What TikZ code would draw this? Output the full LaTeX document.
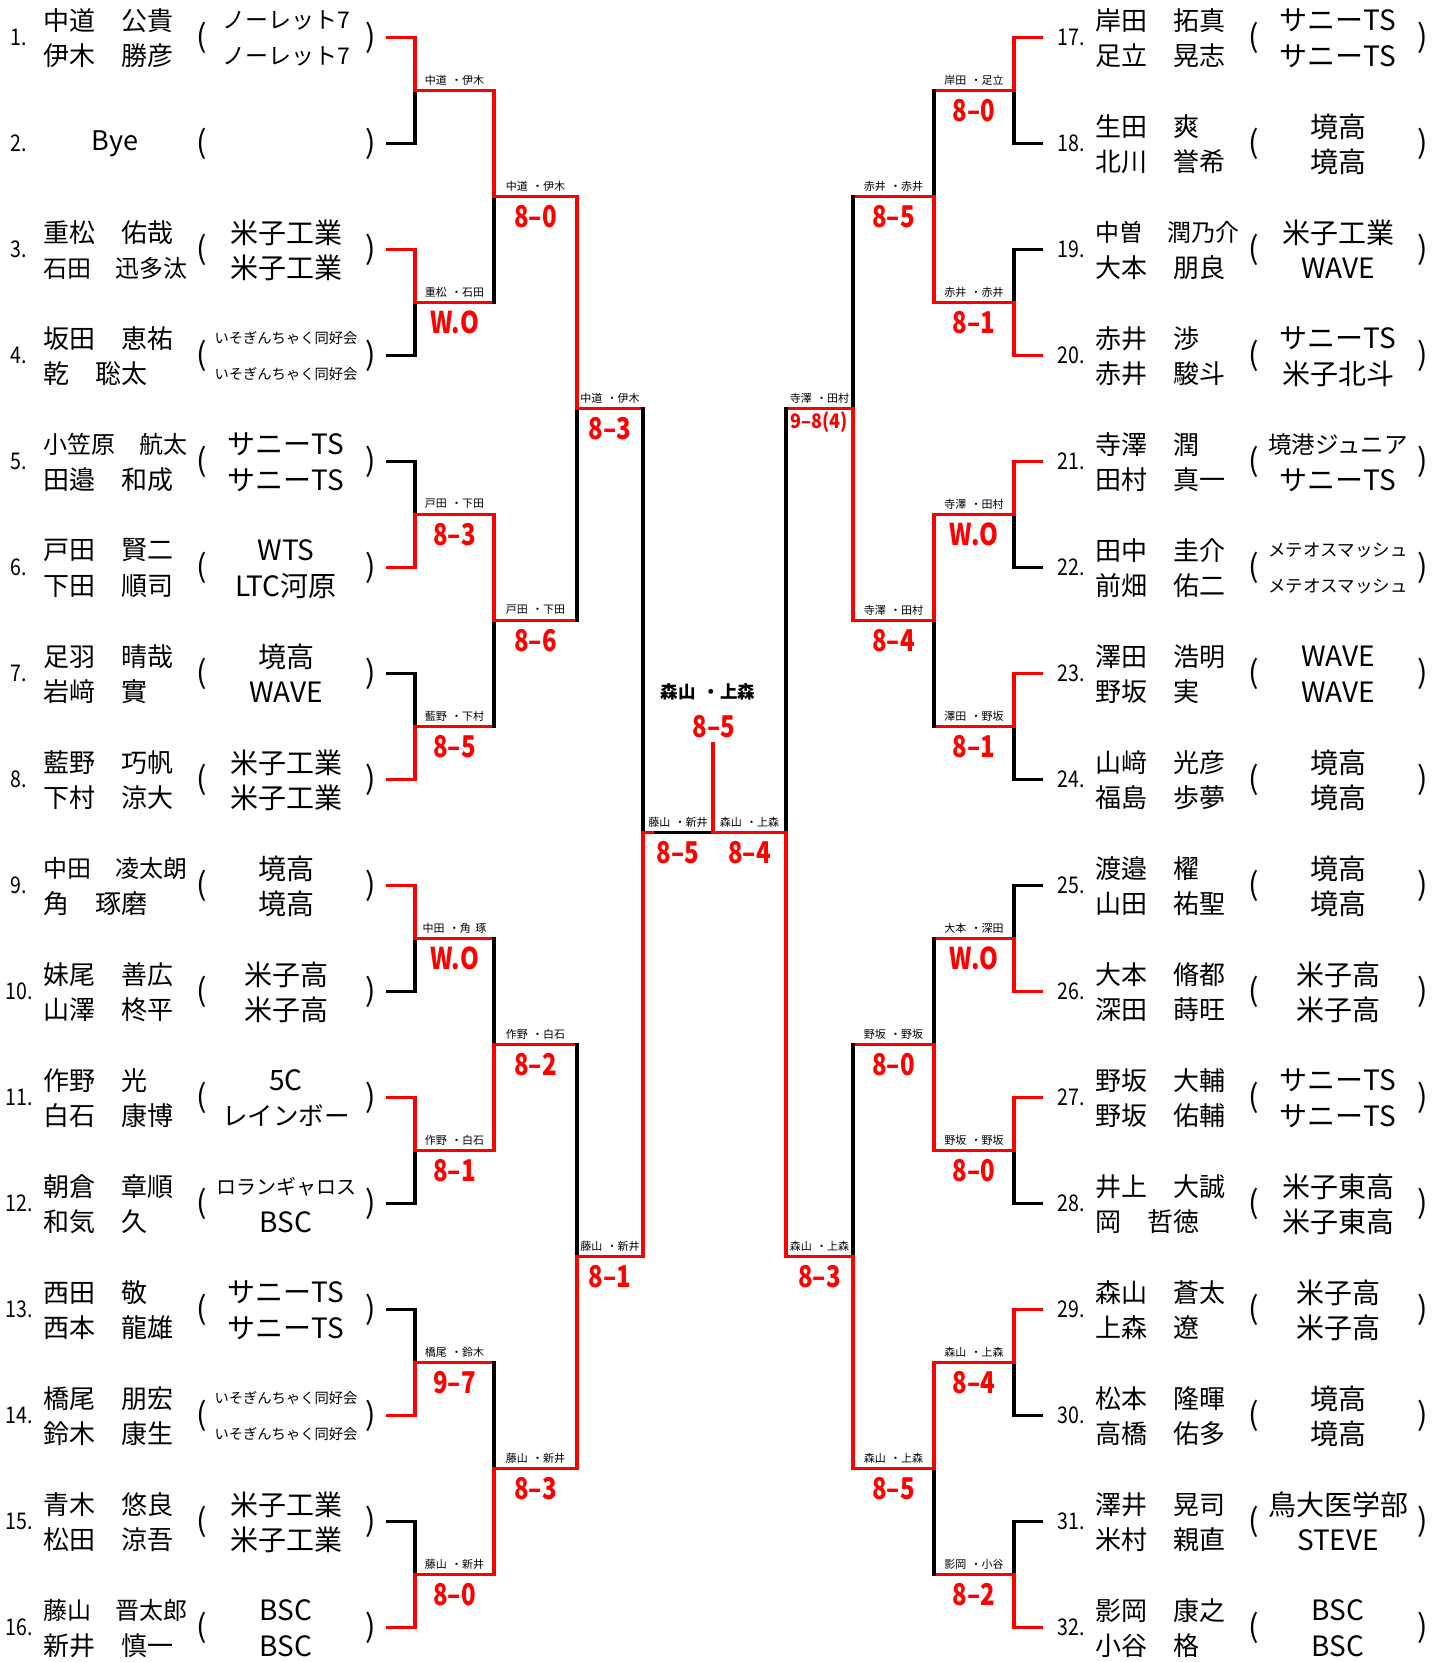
\documentclass[tikz,border=0pt]{standalone}
\usepackage{fontspec}
\setmainfont{Noto Sans CJK JP}
\newcommand\bkFs[1]{\fontsize{#1pt}{#1pt}\selectfont}
\newcommand\bkLab[2]{#1\hspace{.4em}・#2}
\newcommand\bkSc[1]{\scalebox{0.8}[1]{#1}}
\tikzset{
  ln/.style={line width=3.5pt, line cap=rect, line join=miter},
  win/.style={ln, draw=red},
  lose/.style={ln, draw=black},
  nm/.style={anchor=west, inner sep=0pt, font=\bkFs{26}},
  club/.style={anchor=center, inner sep=0pt, font=\bkFs{28}},
  par/.style={anchor=center, inner sep=0pt, font=\bkFs{31}},
  num/.style={anchor=center, inner sep=0pt, font=\bkFs{23}},
  lab/.style={inner sep=0pt, font=\bkFs{11}, yshift=10.5pt},
  scoretxt/.style={inner sep=0pt, text=red, font=\bfseries\bkFs{30}},
  score/.style={scoretxt, yshift=-20pt},
}
% one entry: number, two names, two clubs in brackets
\newcommand\bkEnt[7]{%
  \node[num] (num#1) at (19+#2,#3) {\scalebox{0.85}[1]{#1.}};
  \node[nm] (na#1) at (43+#2,#3-17) {#4};
  \node[nm] (nb#1) at (43+#2,#3+18.5) {#5};
  \node[par] (po#1) at (202+#2,#3) {(};
  \node[club] (ca#1) at (286+#2,#3-17) {#6};
  \node[club] (cb#1) at (286+#2,#3+18.5) {#7};
  \node[par] (pc#1) at (370.5+#2,#3) {)};
}
% first round bracket: #1 side (L/R), #2 match index, #3 U (upper wins) / D (lower wins)
\newcommand\bkFirst[3]{%
  \pgfmathtruncatemacro\bkA{2*#2-1}\pgfmathtruncatemacro\bkB{2*#2}%
  \if#3U
    \draw[lose] (#1S\bkB) -- (#1A\bkB) -- (#1B#2);
    \draw[win] (#1S\bkA) -- (#1A\bkA) -- (#1B#2) -- (#1Bo#2);
  \else
    \draw[lose] (#1S\bkA) -- (#1A\bkA) -- (#1B#2);
    \draw[win] (#1S\bkB) -- (#1A\bkB) -- (#1B#2) -- (#1Bo#2);
  \fi}
% later rounds: #1 upper feeder, #2 match, #3 lower feeder, #4 out, #5 U/D
\newcommand\bkNext[5]{%
  \if#5U
    \draw[lose] (#2) -- (#3);
    \draw[win] (#1) -- (#2) -- (#4);
  \else
    \draw[lose] (#1) -- (#2);
    \draw[win] (#3) -- (#2) -- (#4);
  \fi}
% label and score on a result line
\newcommand\bkRes[5]{%
  \path (#1) -- (#2) node[lab,pos=.5] (#3l) {#4} node[score,pos=.5] (#3s) {\bkSc{#5}};}
\begin{document}
\begin{tikzpicture}[x=1pt,y=-1pt]
\useasboundingbox (0,0) rectangle (1442,1662);
% ---------- coordinates ----------
\foreach \i in {1,...,16}{
  \pgfmathsetmacro\yy{37.5+106*(\i-1)}
  \coordinate (LS\i) at (388,\yy);
  \coordinate (LA\i) at (415,\yy);
  \coordinate (RS\i) at (1041,\yy);
  \coordinate (RA\i) at (1014,\yy);
}
\foreach \k in {1,...,8}{
  \pgfmathsetmacro\yy{90.5+212*(\k-1)}
  \coordinate (LB\k) at (415,\yy); \coordinate (LBo\k) at (494,\yy);
  \coordinate (RB\k) at (1014,\yy); \coordinate (RBo\k) at (934,\yy);
}
\foreach \m in {1,...,4}{
  \pgfmathsetmacro\yy{196.5+424*(\m-1)}
  \coordinate (LC\m) at (494,\yy); \coordinate (LCo\m) at (577,\yy);
  \coordinate (RC\m) at (934,\yy); \coordinate (RCo\m) at (853,\yy);
}
\foreach \n in {1,2}{
  \pgfmathsetmacro\yy{408.5+848*(\n-1)}
  \coordinate (LD\n) at (577,\yy); \coordinate (LDo\n) at (643,\yy);
  \coordinate (RD\n) at (853,\yy); \coordinate (RDo\n) at (786,\yy);
}
\coordinate (LE) at (643,832.5);
\coordinate (LEs) at (652,832.5);
\coordinate (RE) at (786,832.5);
\coordinate (F) at (713,832.5);
\coordinate (Ft) at (713,744);
% ---------- brackets ----------
\foreach \k/\w in {1/U,2/U,3/D,4/D,5/U,6/U,7/D,8/D}{\bkFirst{L}{\k}{\w}}
\foreach \k/\w in {1/U,2/D,3/U,4/U,5/D,6/U,7/U,8/D}{\bkFirst{R}{\k}{\w}}
\foreach \m/\w in {1/U,2/U,3/D,4/D}{%
  \pgfmathtruncatemacro\bkA{2*\m-1}\pgfmathtruncatemacro\bkB{2*\m}%
  \bkNext{LBo\bkA}{LC\m}{LBo\bkB}{LCo\m}{\w}}
\foreach \m/\w in {1/D,2/U,3/D,4/U}{%
  \pgfmathtruncatemacro\bkA{2*\m-1}\pgfmathtruncatemacro\bkB{2*\m}%
  \bkNext{RBo\bkA}{RC\m}{RBo\bkB}{RCo\m}{\w}}
\bkNext{LCo1}{LD1}{LCo2}{LDo1}{U}
\bkNext{LCo3}{LD2}{LCo4}{LDo2}{D}
\bkNext{RCo1}{RD1}{RCo2}{RDo1}{D}
\bkNext{RCo3}{RD2}{RCo4}{RDo2}{D}
\draw[lose] (LDo1) -- (LE) -- (F);
\draw[win] (LDo2) -- (LE) -- (LEs);
\draw[lose] (RDo1) -- (RE);
\draw[win] (RDo2) -- (RE) -- (F);
\draw[win] (F) -- (Ft);
% ---------- entries ----------
\bkEnt{1}{0}{37.5}{中道　公貴}{伊木　勝彦}{\bkFs{23}ノーレット7}{\bkFs{23}ノーレット7}
\node[num] (num2) at (19,143.5) {\scalebox{0.85}[1]{2.}};
\node[club,font=\bkFs{27}] (bye) at (115,143.5) {Bye};
\node[par] (po2) at (202,143.5) {(};
\node[par] (pc2) at (370.5,143.5) {)};
\bkEnt{3}{0}{249.5}{重松　佑哉}{\bkFs{24}石田　迅多汰}{米子工業}{米子工業}
\bkEnt{4}{0}{355.5}{坂田　恵祐}{乾　聡太}{\bkFs{14.3}いそぎんちゃく同好会}{\bkFs{14.3}いそぎんちゃく同好会}
\bkEnt{5}{0}{461.5}{\bkFs{24}小笠原　航太}{田邉　和成}{サニーTS}{サニーTS}
\bkEnt{6}{0}{567.5}{戸田　賢二}{下田　順司}{WTS}{LTC河原}
\bkEnt{7}{0}{673.5}{足羽　晴哉}{岩﨑　實}{境高}{WAVE}
\bkEnt{8}{0}{779.5}{藍野　巧帆}{下村　涼大}{米子工業}{米子工業}
\bkEnt{9}{0}{885.5}{\bkFs{24}中田　凌太朗}{角　琢磨}{境高}{境高}
\bkEnt{10}{0}{991.5}{妹尾　善広}{山澤　柊平}{米子高}{米子高}
\bkEnt{11}{0}{1097.5}{作野　光}{白石　康博}{5C}{\bkFs{25.5}レインボー}
\bkEnt{12}{0}{1203.5}{朝倉　章順}{和気　久}{\bkFs{20}ロランギャロス}{BSC}
\bkEnt{13}{0}{1309.5}{西田　敬}{西本　龍雄}{サニーTS}{サニーTS}
\bkEnt{14}{0}{1415.5}{橋尾　朋宏}{鈴木　康生}{\bkFs{14.3}いそぎんちゃく同好会}{\bkFs{14.3}いそぎんちゃく同好会}
\bkEnt{15}{0}{1521.5}{青木　悠良}{松田　涼吾}{米子工業}{米子工業}
\bkEnt{16}{0}{1627.5}{\bkFs{24}藤山　晋太郎}{新井　慎一}{BSC}{BSC}
\bkEnt{17}{1052}{37.5}{岸田　拓真}{足立　晃志}{サニーTS}{サニーTS}
\bkEnt{18}{1052}{143.5}{生田　爽}{北川　誉希}{境高}{境高}
\bkEnt{19}{1052}{249.5}{\bkFs{24}中曽　潤乃介}{大本　朋良}{米子工業}{WAVE}
\bkEnt{20}{1052}{355.5}{赤井　渉}{赤井　駿斗}{サニーTS}{米子北斗}
\bkEnt{21}{1052}{461.5}{寺澤　潤}{田村　真一}{\bkFs{23.5}境港ジュニア}{サニーTS}
\bkEnt{22}{1052}{567.5}{田中　圭介}{前畑　佑二}{\bkFs{17.5}メテオスマッシュ}{\bkFs{17.5}メテオスマッシュ}
\bkEnt{23}{1052}{673.5}{澤田　浩明}{野坂　実}{WAVE}{WAVE}
\bkEnt{24}{1052}{779.5}{山﨑　光彦}{福島　歩夢}{境高}{境高}
\bkEnt{25}{1052}{885.5}{渡邉　櫂}{山田　祐聖}{境高}{境高}
\bkEnt{26}{1052}{991.5}{大本　脩都}{深田　蒔旺}{米子高}{米子高}
\bkEnt{27}{1052}{1097.5}{野坂　大輔}{野坂　佑輔}{サニーTS}{サニーTS}
\bkEnt{28}{1052}{1203.5}{井上　大誠}{岡　哲徳}{米子東高}{米子東高}
\bkEnt{29}{1052}{1309.5}{森山　蒼太}{上森　遼}{米子高}{米子高}
\bkEnt{30}{1052}{1415.5}{松本　隆暉}{高橋　佑多}{境高}{境高}
\bkEnt{31}{1052}{1521.5}{澤井　晃司}{米村　親直}{鳥大医学部}{STEVE}
\bkEnt{32}{1052}{1627.5}{影岡　康之}{小谷　格}{BSC}{BSC}
% ---------- results: left ----------
\path (LB1) -- (LBo1) node[lab,pos=.5] (l1k1l) {\bkLab{中道}{伊木}};
\bkRes{LB2}{LBo2}{l1k2}{\bkLab{重松}{石田}}{W.O}
\bkRes{LB3}{LBo3}{l1k3}{\bkLab{戸田}{下田}}{8–3}
\bkRes{LB4}{LBo4}{l1k4}{\bkLab{藍野}{下村}}{8–5}
\bkRes{LB5}{LBo5}{l1k5}{\bkLab{中田}{角\hspace{.4em}琢}}{W.O}
\bkRes{LB6}{LBo6}{l1k6}{\bkLab{作野}{白石}}{8–1}
\bkRes{LB7}{LBo7}{l1k7}{\bkLab{橋尾}{鈴木}}{9–7}
\bkRes{LB8}{LBo8}{l1k8}{\bkLab{藤山}{新井}}{8–0}
\bkRes{LC1}{LCo1}{l2m1}{\bkLab{中道}{伊木}}{8–0}
\bkRes{LC2}{LCo2}{l2m2}{\bkLab{戸田}{下田}}{8–6}
\bkRes{LC3}{LCo3}{l2m3}{\bkLab{作野}{白石}}{8–2}
\bkRes{LC4}{LCo4}{l2m4}{\bkLab{藤山}{新井}}{8–3}
\bkRes{LD1}{LDo1}{l3n1}{\bkLab{中道}{伊木}}{8–3}
\bkRes{LD2}{LDo2}{l3n2}{\bkLab{藤山}{新井}}{8–1}
\bkRes{LE}{F}{l4}{\bkLab{藤山}{新井}}{8–5}
% ---------- results: right ----------
\bkRes{RBo1}{RB1}{r1k1}{\bkLab{岸田}{足立}}{8–0}
\bkRes{RBo2}{RB2}{r1k2}{\bkLab{赤井}{赤井}}{8–1}
\bkRes{RBo3}{RB3}{r1k3}{\bkLab{寺澤}{田村}}{W.O}
\bkRes{RBo4}{RB4}{r1k4}{\bkLab{澤田}{野坂}}{8–1}
\bkRes{RBo5}{RB5}{r1k5}{\bkLab{大本}{深田}}{W.O}
\bkRes{RBo6}{RB6}{r1k6}{\bkLab{野坂}{野坂}}{8–0}
\bkRes{RBo7}{RB7}{r1k7}{\bkLab{森山}{上森}}{8–4}
\bkRes{RBo8}{RB8}{r1k8}{\bkLab{影岡}{小谷}}{8–2}
\bkRes{RCo1}{RC1}{r2m1}{\bkLab{赤井}{赤井}}{8–5}
\bkRes{RCo2}{RC2}{r2m2}{\bkLab{寺澤}{田村}}{8–4}
\bkRes{RCo3}{RC3}{r2m3}{\bkLab{野坂}{野坂}}{8–0}
\bkRes{RCo4}{RC4}{r2m4}{\bkLab{森山}{上森}}{8–5}
\path (RDo1) -- (RD1) node[lab,pos=.5] (r3n1l) {\bkLab{寺澤}{田村}}
  node[score,pos=.5,yshift=6pt,font=\bfseries\bkFs{20}] (r3n1s) {\scalebox{0.9}[1]{9–8(4)}};
\bkRes{RDo2}{RD2}{r3n2}{\bkLab{森山}{上森}}{8–3}
\bkRes{F}{RE}{r4}{\bkLab{森山}{上森}}{8–4}
% ---------- final ----------
\node[inner sep=0pt, font=\bfseries\bkFs{17.5}] (finl) at (708,692) {\bkLab{森山}{上森}};
\node[scoretxt] (fins) at (714,727) {\bkSc{8–5}};
\end{tikzpicture}
\end{document}
